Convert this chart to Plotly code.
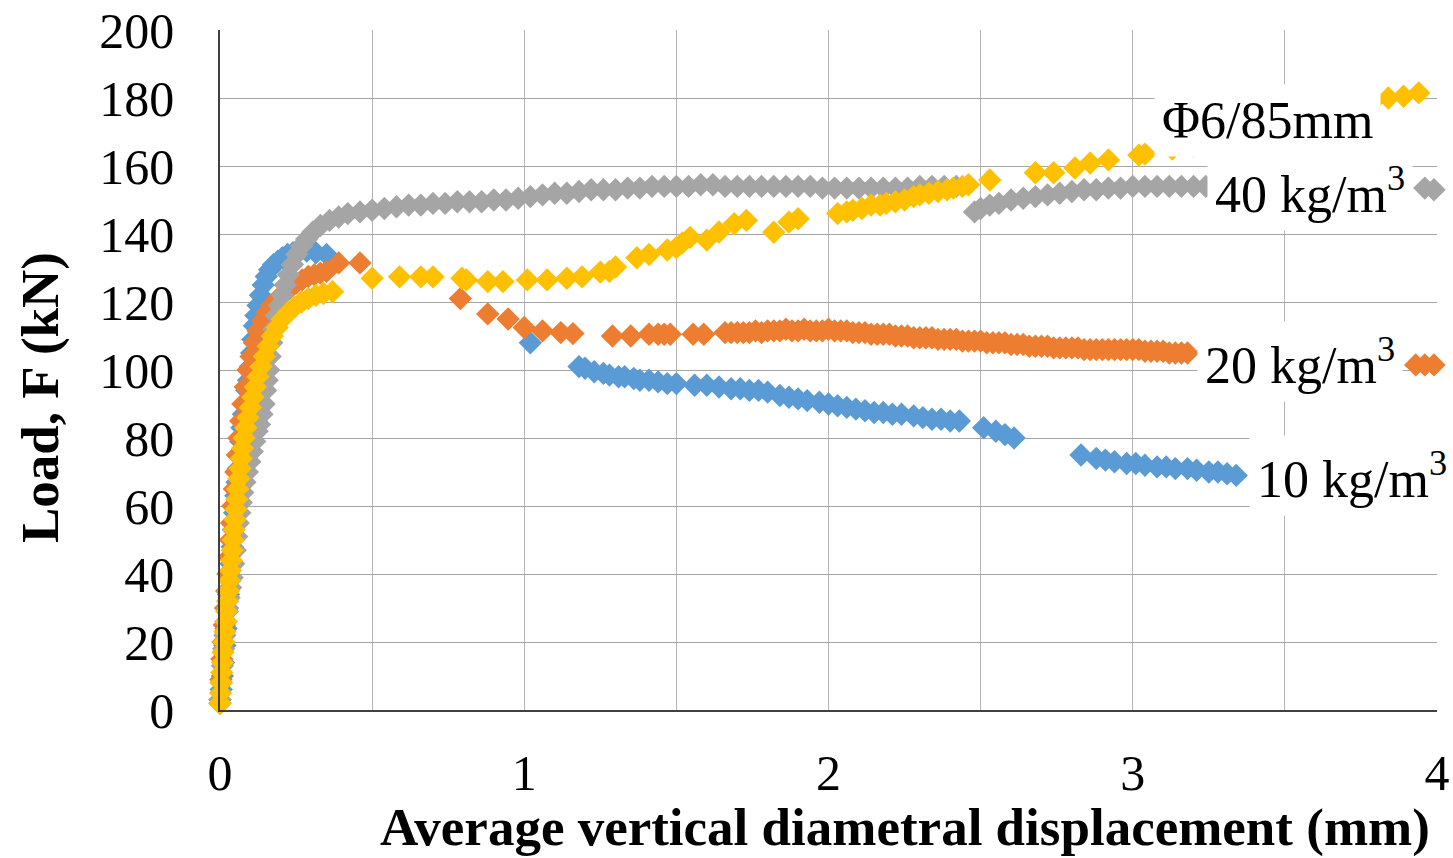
import plotly.graph_objects as go

# ---------------- data ----------------
blue_x = [0.000, 0.004, 0.008, 0.012, 0.016, 0.020, 0.024, 0.028, 0.032, 0.036, 0.040, 0.044, 0.048, 0.052,
          0.056, 0.060, 0.064, 0.068, 0.072, 0.077, 0.082, 0.088, 0.094, 0.100, 0.104, 0.108, 0.113, 0.118,
          0.125, 0.133, 0.142, 0.152, 0.163, 0.176, 0.190, 0.205, 0.222, 0.240, 0.260, 0.285, 0.315, 0.350,
          1.02, 1.18, 1.20, 1.23, 1.26, 1.28, 1.31, 1.33, 1.36, 1.38, 1.41, 1.44, 1.47, 1.50, 1.56, 1.60,
          1.64, 1.68, 1.71, 1.74, 1.77, 1.80, 1.84, 1.87, 1.90, 1.93, 1.97, 2.00, 2.03, 2.06, 2.09, 2.12,
          2.15, 2.18, 2.21, 2.24, 2.28, 2.31, 2.34, 2.37, 2.40, 2.43, 2.51, 2.55, 2.58, 2.61, 2.83, 2.88,
          2.91, 2.94, 2.98, 3.01, 3.04, 3.08, 3.11, 3.14, 3.18, 3.21, 3.25, 3.28, 3.31, 3.34]
blue_y = [2, 6, 10, 14, 19, 24, 29, 34, 38, 43, 48, 53, 58, 63,
          67, 71, 75, 79, 83, 87, 90, 94, 97, 101, 105, 109, 113, 116,
          119, 122, 125, 127.5, 129.5, 131, 132, 133, 134, 134.5, 135, 135, 134.5, 134,
          108, 101, 100.5, 99.5, 99, 98.5, 98, 98, 97.5, 97, 97, 96.5, 96, 96, 95.5, 95.5,
          95, 94.5, 94.5, 94, 94, 93.5, 92.5, 92, 91.5, 91, 90.5, 90, 89.5, 89, 88.5, 88,
          87.5, 87.5, 87, 87, 86.5, 86, 85.5, 85.5, 85, 85, 83, 82, 81, 80, 75, 74,
          73.5, 73, 72.5, 72.5, 72, 71.5, 71.5, 71, 71, 70.5, 70, 70, 69.5, 69]

orange_x = [0.000, 0.003, 0.006, 0.010, 0.014, 0.018, 0.022, 0.026, 0.030, 0.034, 0.038, 0.042, 0.047,
            0.052, 0.057, 0.062, 0.068, 0.075, 0.083, 0.092, 0.102, 0.113, 0.125, 0.140, 0.155, 0.170,
            0.190, 0.210, 0.230, 0.250, 0.270, 0.290, 0.310, 0.330, 0.350, 0.390, 0.460,
            0.79, 0.88, 0.947, 1.00, 1.06, 1.12, 1.16, 1.29, 1.35, 1.41, 1.44, 1.46, 1.48, 1.555, 1.59,
            1.66, 1.68, 1.70, 1.72, 1.74, 1.76, 1.78, 1.80, 1.82, 1.84, 1.86, 1.88, 1.90, 1.92, 1.94,
            1.96, 1.98, 2.00, 2.02, 2.04, 2.06, 2.08, 2.10, 2.12, 2.14, 2.16, 2.18, 2.20, 2.22, 2.24,
            2.26, 2.28, 2.30, 2.32, 2.34, 2.36, 2.38, 2.40, 2.42, 2.44, 2.46, 2.48, 2.50, 2.52, 2.54,
            2.56, 2.58, 2.60, 2.62, 2.64, 2.66, 2.68, 2.70, 2.72, 2.74, 2.76, 2.78, 2.80, 2.82, 2.84,
            2.86, 2.88, 2.90, 2.92, 2.94, 2.96, 2.98, 3.00, 3.02, 3.04, 3.06, 3.08, 3.10, 3.12, 3.14,
            3.16, 3.18, 3.93, 3.96, 3.99]
orange_y = [3, 9, 15, 20, 25, 30, 35, 40, 45, 50, 55, 60, 65,
            70, 75, 80, 85, 90, 95, 100, 104, 108, 111.5, 114.5, 117, 119,
            121, 122.5, 124, 125.5, 126.5, 127.5, 128, 128.5, 129, 131.5, 131.5,
            121, 116.5, 115, 112.5, 111.5, 111, 110.7, 110, 110, 110.5, 110.5, 110.5, 110.5, 110.5, 110.5,
            111, 111, 111, 111, 111, 111.5, 111, 111.5, 111.5, 111.5, 112, 111.5, 111.5, 112, 111.5,
            111.5, 111.5, 112, 111.5, 111.5, 111.5, 111, 111, 111, 110.5, 110.5, 110.5, 110.5, 110, 110,
            110, 109.5, 109.5, 109.5, 109.5, 109, 109, 109, 109, 108.5, 108.5, 108.5, 108.5, 108, 108,
            108, 108, 107.5, 107.5, 107.5, 107, 107, 107, 107, 106.5, 106.5, 106.5, 106.5, 106.5, 106,
            106, 106, 106, 106, 106, 106, 106, 106, 106, 105.5, 105.5, 105.5, 105.5, 105, 105,
            105, 105, 101.5, 101.5, 101.5]

gray_x = [0.000, 0.004, 0.008, 0.012, 0.016, 0.020, 0.025, 0.030, 0.035, 0.040, 0.045, 0.050, 0.055, 0.060,
          0.065, 0.070, 0.075, 0.082, 0.090, 0.098, 0.106, 0.114, 0.122, 0.130, 0.138, 0.145, 0.150, 0.155,
          0.160, 0.165, 0.170, 0.177, 0.185, 0.195, 0.205, 0.215, 0.225, 0.238, 0.252, 0.268, 0.285, 0.305,
          0.33, 0.36, 0.39, 0.42, 0.46, 0.50, 0.54, 0.58, 0.62, 0.66, 0.70, 0.74, 0.78, 0.82, 0.86, 0.90,
          0.94, 0.98, 1.02, 1.06, 1.10, 1.14, 1.18, 1.22, 1.26, 1.30, 1.34, 1.38, 1.42, 1.46, 1.50, 1.54,
          1.58, 1.62, 1.66, 1.70, 1.74, 1.78, 1.82, 1.86, 1.90, 1.94, 1.98, 2.02, 2.06, 2.10, 2.14, 2.18,
          2.22, 2.26, 2.30, 2.34, 2.38, 2.42, 2.48, 2.50, 2.53, 2.56, 2.60, 2.64, 2.68, 2.72, 2.76, 2.80,
          2.84, 2.88, 2.92, 2.96, 3.00, 3.04, 3.08, 3.12, 3.16, 3.20, 3.24, 3.96, 3.99]
gray_y = [3, 8, 13, 18, 22, 26, 30, 33, 36, 39, 43, 47, 51, 55,
          58, 61, 64, 67, 70, 73, 76, 79, 82, 84, 87, 90, 94, 97,
          100, 104, 108, 112, 116, 119, 122, 125, 128, 131, 134, 136.5, 138.5, 140.5,
          142.5, 144, 145, 146, 146.5, 147, 147.5, 148, 148.5, 148.5, 149, 149, 149.5, 149.5, 149.5, 150,
          150, 150.5, 151, 151.5, 152, 152, 152.5, 153, 153, 153, 153.5, 153.5, 154, 154, 154, 154,
          154.5, 154.5, 154, 154, 154, 154, 154, 154, 154, 154, 153.5, 153.5, 153.5, 153.5, 153.5, 153.5,
          153.5, 153.5, 154, 154, 154, 154, 146.5, 147.5, 148.5, 149, 150, 150.5, 151, 151.5, 152, 152.5,
          153, 153, 153.5, 153.5, 154, 154, 154, 154, 154, 154, 154, 153.5, 153]

yellow_x = [0.000, 0.002, 0.004, 0.006, 0.008, 0.010, 0.013, 0.016, 0.019, 0.022, 0.025, 0.028, 0.031,
            0.034, 0.037, 0.040, 0.043, 0.046, 0.049, 0.052, 0.055, 0.058, 0.062, 0.066, 0.070, 0.074,
            0.079, 0.085, 0.092, 0.100, 0.108, 0.116, 0.125, 0.135, 0.146, 0.158, 0.172, 0.188, 0.205,
            0.225, 0.245, 0.268, 0.290, 0.315, 0.340, 0.370,
            0.50, 0.59, 0.66, 0.70, 0.795, 0.81, 0.88, 0.93, 1.01, 1.075, 1.14, 1.19, 1.25, 1.28, 1.30,
            1.37, 1.41, 1.47, 1.50, 1.52, 1.545, 1.60, 1.64, 1.69, 1.73, 1.82, 1.87, 1.90, 2.03, 2.06,
            2.08, 2.11, 2.14, 2.17, 2.19, 2.22, 2.25, 2.28, 2.30, 2.33, 2.36, 2.39, 2.41, 2.44, 2.46,
            2.53, 2.68, 2.74, 2.81, 2.86, 2.92, 3.02, 3.04, 3.13, 3.20, 3.30, 3.40, 3.50, 3.60, 3.70,
            3.79, 3.84, 3.89, 3.94]
yellow_y = [2, 5, 8, 11, 14, 17, 20, 23, 26, 29, 32, 35, 38,
            41, 44, 47, 50, 53, 56, 59, 62, 65, 68, 71, 74, 77,
            80, 83, 86, 89, 92, 95, 98, 101, 104, 107, 110, 112.5, 115,
            117, 118.5, 120, 121, 122, 122.5, 123,
            127, 127.4, 127.4, 127.4, 127, 126.5, 126, 126, 126.5, 126.5, 127, 127.4, 128.8, 129, 130.3,
            133, 134, 135.3, 136, 137.4, 139, 138.2, 140.6, 143, 144, 140.5, 143.5, 144.5, 146, 146.5,
            147, 147.5, 148.5, 148.5, 149, 149.5, 150, 151, 151.5, 152, 152.5, 153, 153.5, 154, 154.5,
            155.9, 158, 158, 159.4, 160.9, 161.8, 163.2, 163.5, 165, 166, 168.5, 171, 173, 175.5, 177.5,
            179, 180, 180.5, 181.5]

series_names = ["10 kg/m<sup>3</sup>", "20 kg/m<sup>3</sup>", "40 kg/m<sup>3</sup>", "Φ6/85mm"]
series_colors = ["#5B9BD5", "#ED7D31", "#A5A5A5", "#FFC000"]
x_ticks = [0, 1, 2, 3, 4]
y_ticks = [0, 20, 40, 60, 80, 100, 120, 140, 160, 180, 200]

# label anchors (data coords)
label_pos = {
    "Φ6/85mm": (3.444, 173.5),
    "40 kg/m<sup>3</sup>": (3.583, 152.9),
    "20 kg/m<sup>3</sup>": (3.55, 102.4),
    "10 kg/m<sup>3</sup>": (3.72, 69.1),
}

FONT = "Liberation Serif"

fig = go.Figure()
for name, xs, ys, col in zip(series_names,
                             [blue_x, orange_x, gray_x, yellow_x],
                             [blue_y, orange_y, gray_y, yellow_y],
                             series_colors):
    fig.add_trace(go.Scatter(
        x=xs, y=ys, mode="markers", name=name,
        marker=dict(symbol="diamond", size=18, color=col, line=dict(width=0)),
        cliponaxis=False, showlegend=False,
    ))

for text, (lx, ly) in label_pos.items():
    fig.add_annotation(x=lx, y=ly, xref="x", yref="y", text=text, showarrow=False,
                       font=dict(family=FONT, size=52, color="black"),
                       bgcolor="white", borderpad=7, xanchor="center", yanchor="middle")

fig.add_annotation(x=0.563, y=-0.1735, xref="paper", yref="paper",
                   text="<b>Average vertical diametral displacement (mm)</b>", showarrow=False,
                   font=dict(family=FONT, size=53, color="black"), xanchor="center", yanchor="middle")
fig.add_annotation(x=-0.148, y=0.46, xref="paper", yref="paper",
                   text="<b>Load, F (kN)</b>", showarrow=False, textangle=-90,
                   font=dict(family=FONT, size=53, color="black"), xanchor="center", yanchor="middle")

fig.update_layout(
    width=1453, height=858,
    margin=dict(l=220, r=16, t=30, b=148, autoexpand=False),
    paper_bgcolor="white", plot_bgcolor="white",
    xaxis=dict(range=[0, 4], tickvals=x_ticks, ticktext=[str(v) for v in x_ticks],
               showgrid=True, gridcolor="#b4b4b4", gridwidth=1,
               minor=dict(dtick=0.5, showgrid=True, gridcolor="#b4b4b4", gridwidth=1),
               showline=True, linecolor="#404040", linewidth=1.5, automargin=False,
               zeroline=False, ticks="", ticklabelstandoff=18,
               tickfont=dict(family=FONT, size=50, color="black")),
    yaxis=dict(range=[0, 200], tickvals=y_ticks, ticktext=[str(v) for v in y_ticks],
               showgrid=True, gridcolor="#a6a6a6", gridwidth=1,
               showline=True, linecolor="#404040", linewidth=1.5, automargin=False,
               zeroline=False, ticks="", ticklabelstandoff=34,
               tickfont=dict(family=FONT, size=50, color="black")),
)

fig.write_html("out.html")
